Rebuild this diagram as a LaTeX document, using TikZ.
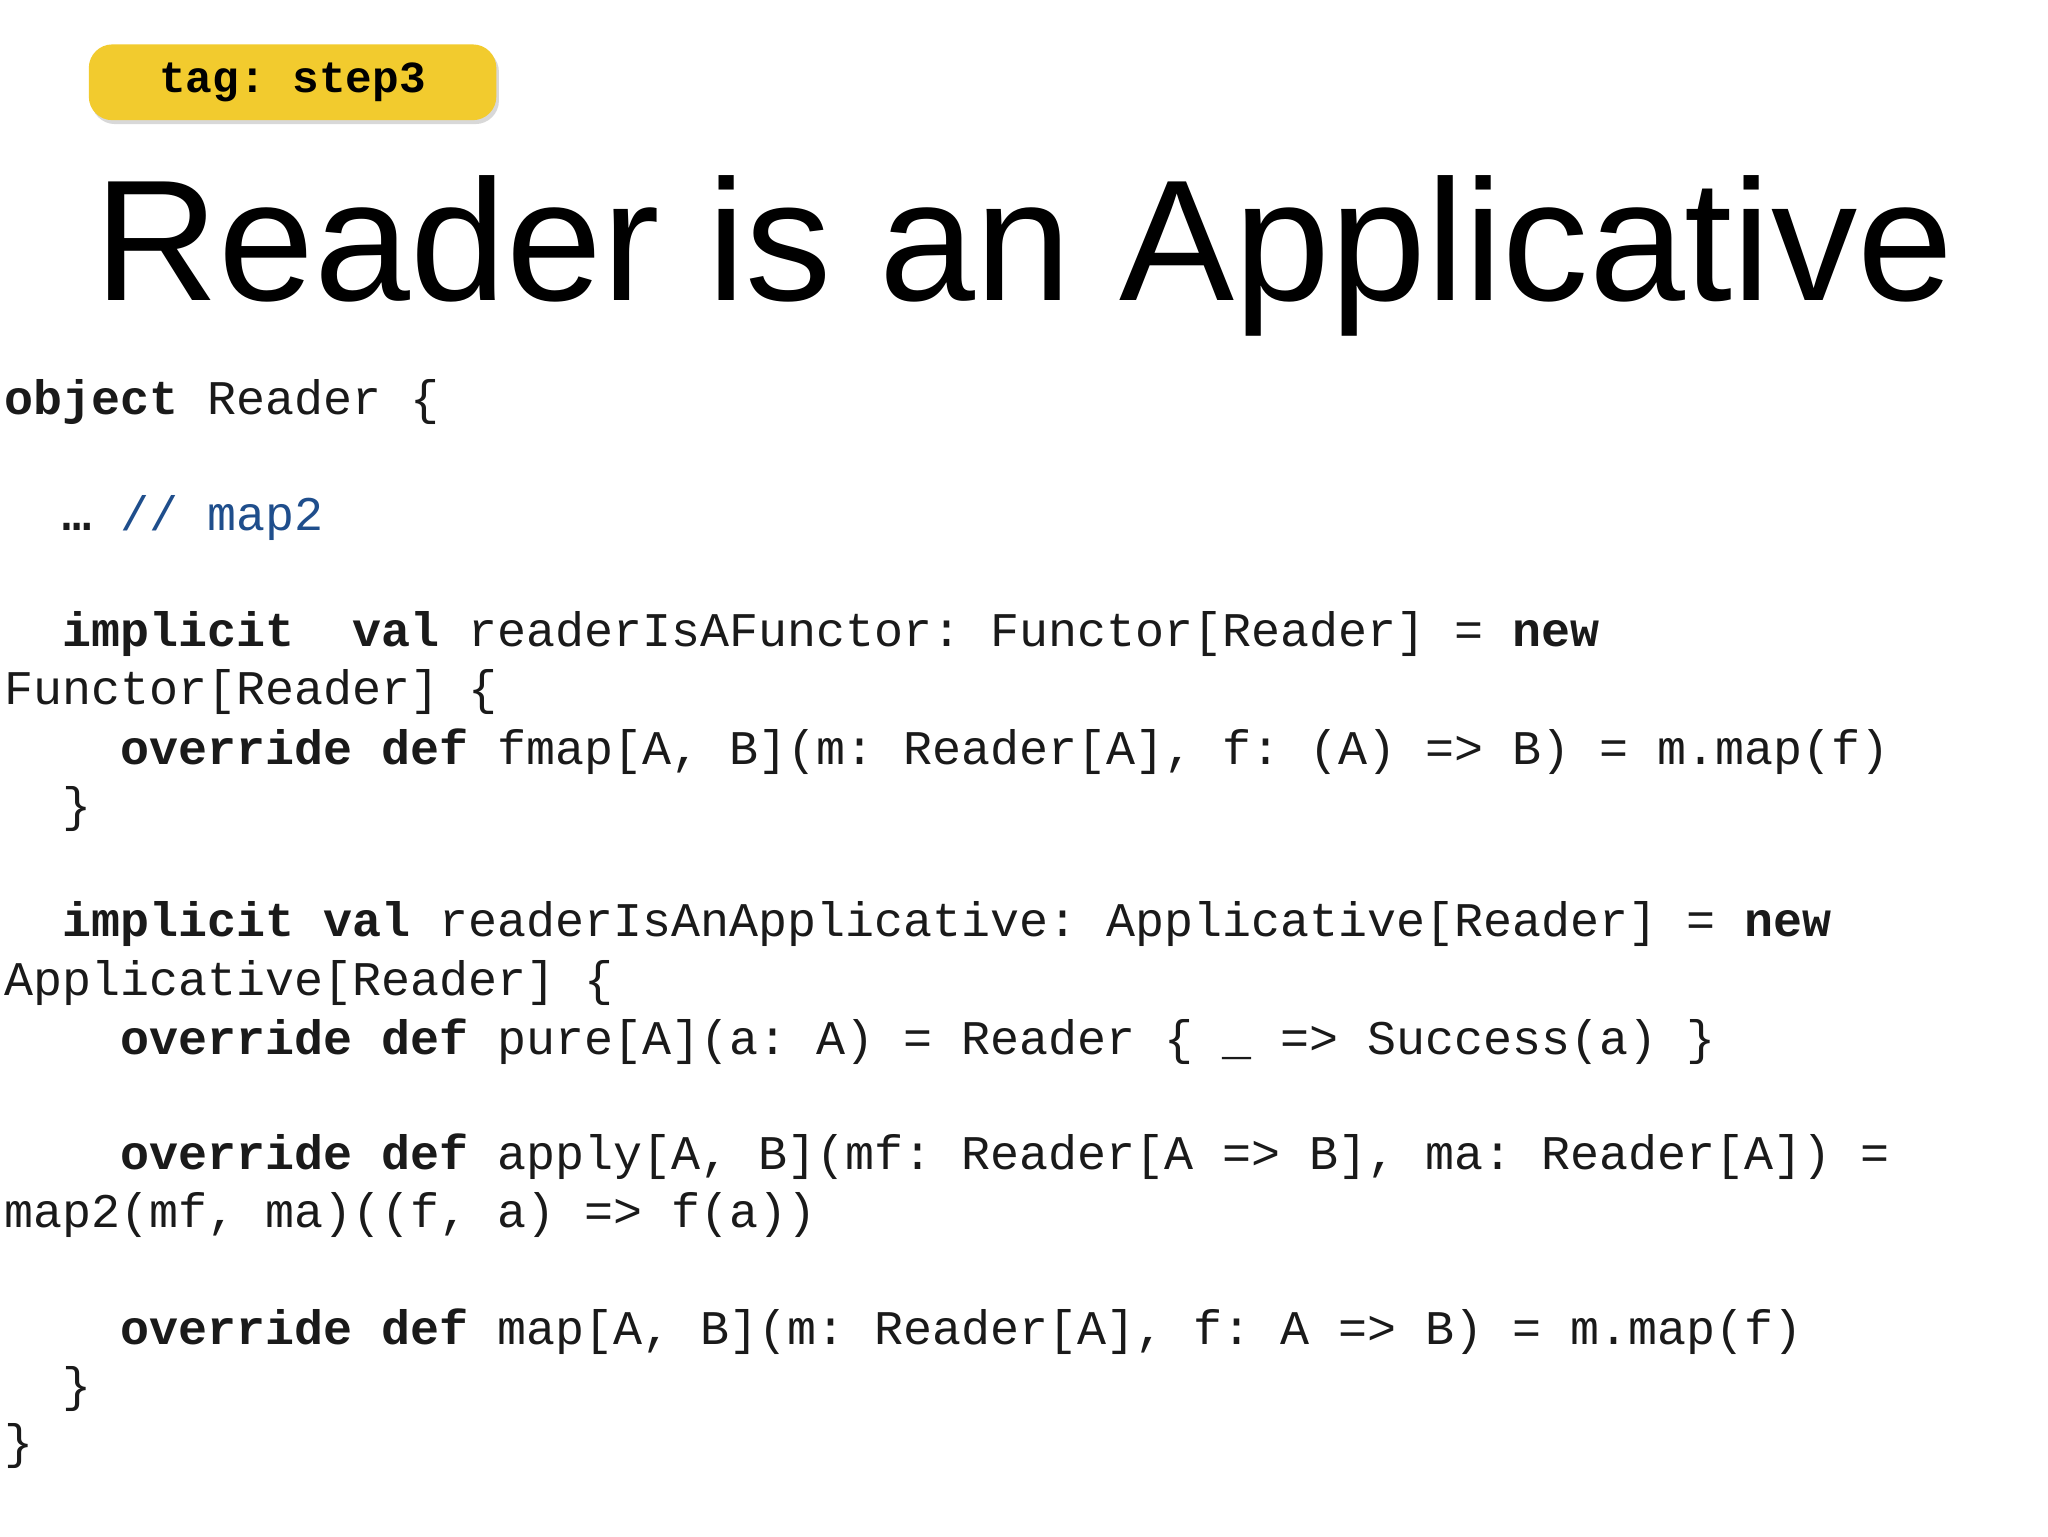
\documentclass[tikz,border=0pt]{standalone}
\usepackage{fontspec}
\setmainfont{Liberation Sans}
\setmonofont{Liberation Mono}
\usetikzlibrary{shadows}
\definecolor{tagyellow}{HTML}{F2CB2E}
\definecolor{codeblue}{HTML}{1F4E8C}
\definecolor{ink}{HTML}{1A1A1A}
\newcommand{\kw}[1]{\textbf{#1}}
\tikzset{
  code/.style={anchor=base west,inner sep=0pt,font=\ttfamily\fontsize{37}{44}\selectfont,text=ink},
}
\begin{document}
\begin{tikzpicture}[x=1pt,y=-1pt]
\useasboundingbox[fill=white] (0,0) rectangle (1568,1176);
\node[rounded corners=18pt,fill=tagyellow,minimum width=312pt,minimum height=58pt,
  drop shadow={shadow xshift=2pt,shadow yshift=-3pt,opacity=0.3},
  font=\ttfamily\bfseries\fontsize{34}{40}\selectfont] (tag) at (224,63) {tag:~step3};
\node[font=\fontsize{132}{150}\selectfont,text=black,anchor=base] (title) at (784,230) {Reader is an Applicative};
\node[code] (l1) at (3,317) {\kw{object} Reader \{};
\node[code] (l2) at (3,406) {~~\kw{…} \textcolor{codeblue}{// map2}};
\node[code] (l3) at (3,495) {~~\kw{implicit}~~\kw{val} readerIsAFunctor: Functor[Reader] = \kw{new}};
\node[code] (l4) at (3,539) {Functor[Reader] \{};
\node[code] (l5) at (3,585) {~~~~\kw{override}~\kw{def} fmap[A, B](m: Reader[A], f: (A) => B) = m.map(f)};
\node[code] (l6) at (3,629) {~~\}};
\node[code] (l7) at (3,717) {~~\kw{implicit}~\kw{val} readerIsAnApplicative: Applicative[Reader] = \kw{new}};
\node[code] (l8) at (3,762) {Applicative[Reader] \{};
\node[code] (l9) at (3,807) {~~~~\kw{override}~\kw{def} pure[A](a: A) = Reader \{ \_ => Success(a) \}};
\node[code] (l10) at (3,895) {~~~~\kw{override}~\kw{def} apply[A, B](mf: Reader[A => B], ma: Reader[A]) =};
\node[code] (l11) at (3,940) {map2(mf, ma)((f, a) => f(a))};
\node[code] (l12) at (3,1029) {~~~~\kw{override}~\kw{def} map[A, B](m: Reader[A], f: A => B) = m.map(f)};
\node[code] (l13) at (3,1073) {~~\}};
\node[code] (l14) at (3,1117) {\}};
\end{tikzpicture}
\end{document}
